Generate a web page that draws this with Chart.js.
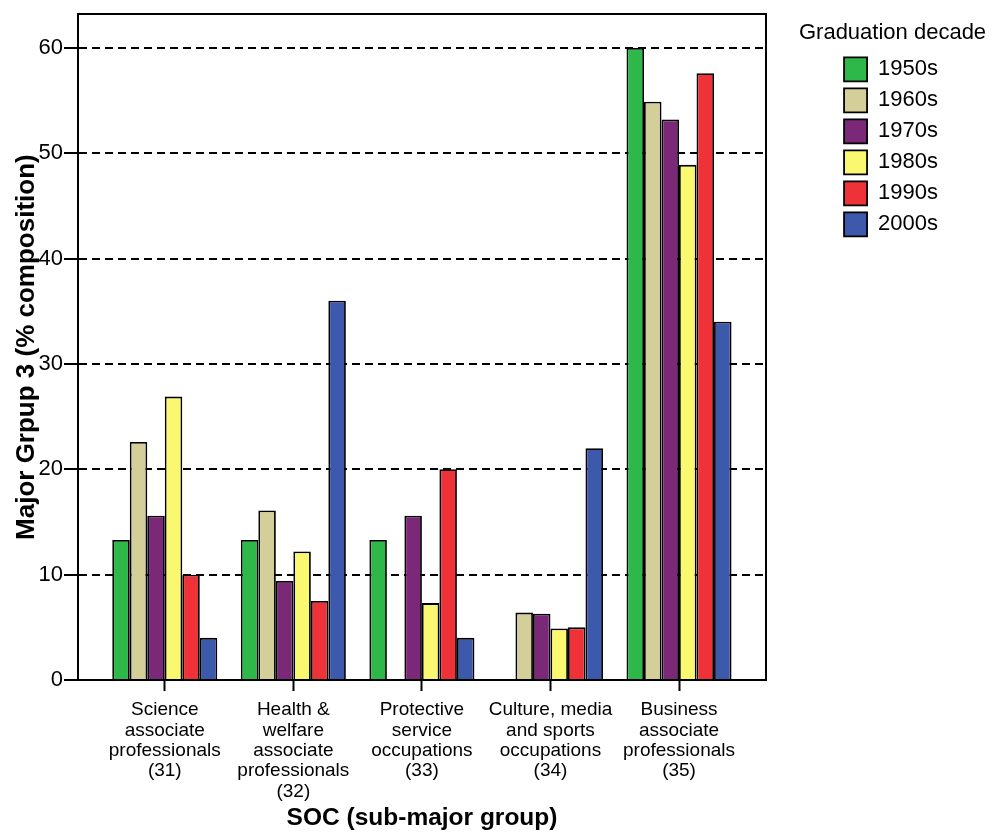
<!DOCTYPE html>
<html>
<head>
<meta charset="utf-8">
<script src="https://cdn.jsdelivr.net/npm/chart.js@4.4.1/dist/chart.umd.min.js"></script>
<style>
  body { margin: 0; background: #fff; }
  canvas { display: block; }
</style>
</head>
<body>
<canvas id="chart" width="992" height="839"></canvas>
<script>
// kategori SOC (label multi baris)
const categories = [
    ["Science", "associate", "professionals", "(31)"],
    ["Health &", "welfare", "associate", "professionals", "(32)"],
    ["Protective", "service", "occupations", "(33)"],
    ["Culture, media", "and sports", "occupations", "(34)"],
    ["Business", "associate", "professionals", "(35)"]
];

const decades = ["1950s", "1960s", "1970s", "1980s", "1990s", "2000s"];
const decadeColors = ["#2fb84a", "#d4ce98", "#7b2878", "#faf770", "#ef3238", "#3d59ab"];
const legendTitle = "Graduation decade";

// nilai per dekade (urutan = categories)
const v1950s = [13.3, 13.3, 13.3, null, 60.0];
const v1960s = [22.6, 16.1, null, 6.4, 54.9];
const v1970s = [15.6, 9.4, 15.6, 6.3, 53.2];
const v1980s = [26.9, 12.2, 7.3, 4.9, 48.9];
const v1990s = [10.0, 7.5, 20.0, 5.0, 57.6];
const v2000s = [4.0, 36.0, 4.0, 22.0, 34.0];
const seriesValues = [v1950s, v1960s, v1970s, v1980s, v1990s, v2000s];

const yTicks = [0, 10, 20, 30, 40, 50, 60];

const FONT = "'Liberation Sans', Arial, Helvetica, sans-serif";

const datasets = decades.map((d, i) => ({
    label: d,
    data: seriesValues[i].map((v, k) => ({ x: k, y: v })),
    backgroundColor: decadeColors[i],
    borderColor: "#000",
    borderWidth: 1.8,
    categoryPercentage: 0.817,
    barPercentage: 1
}));

// judul legenda digambar sendiri (legend bawaan memotong judul yang lebih lebar dari kotaknya)
const legendTitlePlugin = {
    id: "legendTitle",
    afterDraw(chart) {
        const lg = chart.legend;
        if (!lg) return;
        const ctx = chart.ctx;
        ctx.save();
        ctx.font = "22px " + FONT;
        ctx.fillStyle = "#000";
        ctx.textAlign = "center";
        ctx.textBaseline = "middle";
        ctx.fillText(legendTitle, lg.left + lg.width / 2, 33);
        ctx.restore();
    }
};

new Chart(document.getElementById("chart"), {
    type: "bar",
    data: { datasets },
    plugins: [legendTitlePlugin],
    options: {
        responsive: false,
        animation: false,
        layout: { padding: { top: 8, right: 44, bottom: 0, left: 0 } },
        plugins: {
            tooltip: { enabled: false },
            legend: {
                position: "right",
                align: "start",
                title: {
                    display: true,
                    text: "",
                    font: { family: FONT, size: 22 },
                    padding: { top: 14, bottom: 2 }
                },
                labels: {
                    color: "#000",
                    font: { family: FONT, size: 22 },
                    boxWidth: 23,
                    boxHeight: 24,
                    padding: 7
                }
            }
        },
        scales: {
            x: {
                type: "linear",
                offset: false,
                min: -0.675,
                max: 4.677,
                afterBuildTicks: (s) => { s.ticks = categories.map((c, i) => ({ value: i })); },
                afterFit: (s) => { s.height = 159; },
                grid: {
                    offset: false,
                    drawOnChartArea: false,
                    drawTicks: true,
                    tickLength: 11,
                    tickColor: "#000",
                    tickWidth: 2
                },
                border: { display: true, color: "#000", width: 2 },
                ticks: {
                    autoSkip: false,
                    maxRotation: 0,
                    padding: 9,
                    color: "#000",
                    font: { family: FONT, size: 19, lineHeight: 1.07 },
                    callback: (v) => categories[v]
                },
                title: {
                    display: true,
                    text: "SOC (sub-major group)",
                    color: "#000",
                    font: { family: FONT, size: 24.5, weight: "bold" },
                    padding: { top: 0, bottom: 6 }
                }
            },
            y: {
                min: 0,
                max: 63.2,
                afterBuildTicks: (s) => { s.ticks = yTicks.map(v => ({ value: v })); },
                afterFit: (s) => { s.width = 78; },
                grid: {
                    color: (ctx) => (ctx.tick && ctx.tick.value === 0) ? "rgba(0,0,0,0)" : "#000",
                    lineWidth: 2,
                    drawTicks: true,
                    tickLength: 14,
                    tickColor: "#000",
                    tickWidth: 2,
                    tickBorderDash: []
                },
                border: { display: true, color: "#000", width: 2, dash: [8, 5] },
                ticks: {
                    padding: 1,
                    color: "#000",
                    font: { family: FONT, size: 22 }
                },
                title: {
                    display: true,
                    text: "Major Grpup 3 (% composition)",
                    color: "#000",
                    font: { family: FONT, size: 26, weight: "bold" },
                    padding: { top: 11, bottom: 0 }
                }
            },
            // garis bingkai atas & kanan
            xTop: {
                type: "linear",
                position: "top",
                min: 0, max: 1,
                afterFit: (s) => { s.height = 0; },
                grid: { display: false },
                ticks: { display: false },
                border: { display: true, color: "#000", width: 2 }
            },
            yRight: {
                type: "linear",
                position: "right",
                min: 0, max: 1,
                afterFit: (s) => { s.width = 71; },
                grid: { display: false },
                ticks: { display: false },
                border: { display: true, color: "#000", width: 2 }
            }
        }
    }
});
</script>
</body>
</html>
